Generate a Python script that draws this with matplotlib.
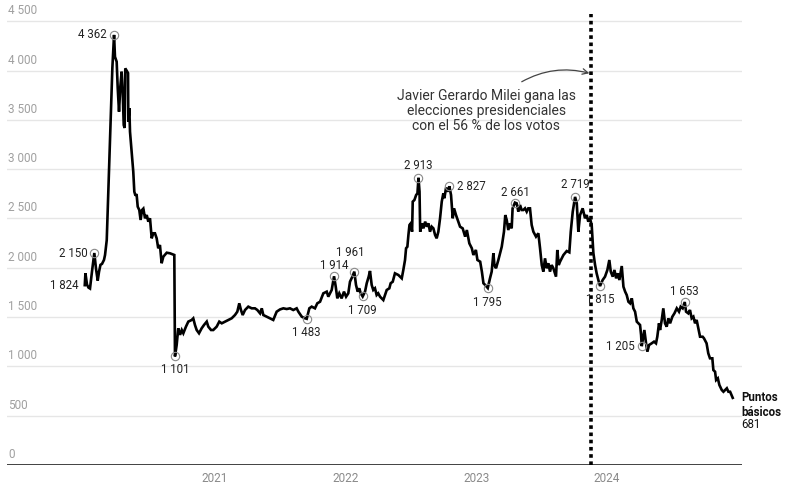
import matplotlib
matplotlib.use("Agg")
import matplotlib.pyplot as plt
from matplotlib.transforms import blended_transform_factory

plt.rcParams["font.family"] = ["Roboto", "DejaVu Sans"]

# riesgo país (puntos básicos), fechas en años decimales
t_2020 = [2020.006, 2020.011, 2020.023, 2020.034, 2020.046, 2020.061, 2020.079, 2020.092, 2020.105, 2020.115,
          2020.126, 2020.138, 2020.153, 2020.161, 2020.174, 2020.217, 2020.230, 2020.237, 2020.250, 2020.258,
          2020.268, 2020.278, 2020.288, 2020.296, 2020.304, 2020.311, 2020.316, 2020.326, 2020.337, 2020.339,
          2020.347, 2020.352, 2020.377, 2020.385, 2020.392, 2020.403, 2020.411, 2020.423, 2020.433, 2020.444,
          2020.454, 2020.467, 2020.480, 2020.492, 2020.505, 2020.518, 2020.530, 2020.543, 2020.556, 2020.568,
          2020.581, 2020.594, 2020.607, 2020.633, 2020.658, 2020.691, 2020.696, 2020.709, 2020.721, 2020.735,
          2020.748, 2020.760, 2020.780, 2020.798, 2020.824, 2020.836, 2020.849, 2020.862, 2020.880, 2020.900,
          2020.918, 2020.939, 2020.951, 2020.972, 2020.989]
v_2020 = [1824, 1945, 1830, 1800, 1790, 1960, 2150, 1990, 1870, 1960,
          2030, 2040, 2080, 2130, 2280, 4026, 4362, 4140, 4090, 3824,
          3583, 3837, 3989, 3786, 3448, 3418, 4023, 4000, 3975, 3482,
          3620, 3380, 2975, 2772, 2740, 2738, 2620, 2586, 2485, 2586,
          2600, 2502, 2535, 2468, 2502, 2299, 2350, 2350, 2299, 2198,
          2231, 2046, 2113, 2153, 2147, 2130, 1101, 1217, 1386, 1320,
          1369, 1336, 1403, 1454, 1471, 1487, 1420, 1369, 1336, 1386,
          1420, 1454, 1403, 1369, 1369]

t_2021 = [2021.015, 2021.035, 2021.054, 2021.079, 2021.104, 2021.130, 2021.155, 2021.173, 2021.188, 2021.201,
          2021.214, 2021.232, 2021.257, 2021.283, 2021.308, 2021.326, 2021.347, 2021.360, 2021.372, 2021.398,
          2021.423, 2021.448, 2021.474, 2021.500, 2021.525, 2021.551, 2021.576, 2021.601, 2021.627, 2021.640,
          2021.666, 2021.691, 2021.704, 2021.724, 2021.742, 2021.767, 2021.785, 2021.806, 2021.831, 2021.857,
          2021.869, 2021.895, 2021.913, 2021.926, 2021.938, 2021.953, 2021.971, 2021.989]
v_2021 = [1403, 1454, 1437, 1454, 1471, 1488, 1521, 1555, 1640, 1572,
          1521, 1572, 1606, 1589, 1589, 1572, 1538, 1589, 1521, 1504,
          1488, 1471, 1555, 1578, 1589, 1582, 1589, 1572, 1589, 1555,
          1504, 1488, 1483, 1589, 1606, 1589, 1640, 1656, 1741, 1758,
          1707, 1775, 1914, 1808, 1690, 1741, 1690, 1758]

t_2022 = [2022.005, 2022.022, 2022.035, 2022.053, 2022.068, 2022.081, 2022.094, 2022.106, 2022.117, 2022.132,
          2022.150, 2022.163, 2022.178, 2022.188, 2022.201, 2022.213, 2022.226, 2022.239, 2022.251, 2022.265,
          2022.290, 2022.303, 2022.316, 2022.336, 2022.346, 2022.362, 2022.379, 2022.405, 2022.418, 2022.431,
          2022.443, 2022.456, 2022.464, 2022.474, 2022.482, 2022.490, 2022.500, 2022.510, 2022.515, 2022.528,
          2022.541, 2022.551, 2022.559, 2022.567, 2022.572, 2022.585, 2022.597, 2022.610, 2022.623, 2022.635,
          2022.647, 2022.660, 2022.673, 2022.686, 2022.698, 2022.711, 2022.724, 2022.737, 2022.749, 2022.757,
          2022.770, 2022.785, 2022.795, 2022.808, 2022.821, 2022.831, 2022.846, 2022.859, 2022.877, 2022.897,
          2022.916, 2022.929, 2022.948, 2022.967, 2022.979, 2022.998]
v_2022 = [1707, 1741, 1859, 1910, 1961, 1826, 1758, 1792, 1741, 1709,
          1758, 1843, 1910, 1968, 1826, 1775, 1792, 1724, 1741, 1707,
          1673, 1724, 1775, 1792, 1843, 1859, 1944, 1927, 1910, 1893,
          1978, 2079, 2198, 2214, 2333, 2434, 2451, 2366, 2671, 2688,
          2738, 2755, 2913, 2772, 2366, 2451, 2400, 2468, 2417, 2451,
          2366, 2417, 2400, 2333, 2299, 2366, 2502, 2671, 2755, 2705,
          2813, 2772, 2827, 2738, 2502, 2603, 2535, 2485, 2417, 2400,
          2316, 2383, 2248, 2198, 2130, 2181]

t_2023 = [2023.010, 2023.031, 2023.044, 2023.056, 2023.069, 2023.089, 2023.106, 2023.119, 2023.132, 2023.140,
          2023.152, 2023.170, 2023.196, 2023.213, 2023.223, 2023.234, 2023.246, 2023.259, 2023.272, 2023.279,
          2023.297, 2023.310, 2023.323, 2023.336, 2023.348, 2023.361, 2023.374, 2023.387, 2023.399, 2023.412,
          2023.425, 2023.438, 2023.458, 2023.476, 2023.489, 2023.502, 2023.514, 2023.527, 2023.540, 2023.553,
          2023.565, 2023.578, 2023.591, 2023.611, 2023.621, 2023.632, 2023.642, 2023.668, 2023.693, 2023.713,
          2023.724, 2023.739, 2023.757, 2023.770, 2023.782, 2023.795, 2023.815, 2023.833, 2023.846, 2023.858,
          2023.871, 2023.884, 2023.897, 2023.910, 2023.922, 2023.935, 2023.948, 2023.968, 2023.986]
v_2023 = [2079, 2062, 1961, 1843, 1826, 1795, 1893, 1961, 2147, 2028,
          1995, 2079, 2214, 2366, 2535, 2485, 2383, 2451, 2400, 2603,
          2661, 2654, 2569, 2637, 2586, 2586, 2603, 2569, 2603, 2603,
          2434, 2366, 2316, 2350, 2198, 2028, 1961, 2096, 1995, 2046,
          1961, 2028, 1995, 1910, 2181, 2028, 2062, 2130, 2170, 2157,
          2366, 2569, 2719, 2654, 2366, 2535, 2603, 2502, 2535, 2468,
          2502, 2434, 2150, 2028, 1944, 1876, 1815, 1876, 1910]

t_2024 = [2024.004, 2024.019, 2024.030, 2024.045, 2024.058, 2024.071, 2024.084, 2024.096, 2024.114, 2024.127,
          2024.140, 2024.152, 2024.165, 2024.178, 2024.191, 2024.203, 2024.216, 2024.229, 2024.241, 2024.254,
          2024.262, 2024.267, 2024.287, 2024.300, 2024.310, 2024.323, 2024.343, 2024.361, 2024.376, 2024.386,
          2024.399, 2024.407, 2024.420, 2024.432, 2024.445, 2024.458, 2024.471, 2024.484, 2024.501, 2024.517,
          2024.535, 2024.552, 2024.565, 2024.580, 2024.596, 2024.606, 2024.623, 2024.636, 2024.649, 2024.662,
          2024.675, 2024.687, 2024.700, 2024.713, 2024.733, 2024.743, 2024.763, 2024.776, 2024.789, 2024.807,
          2024.815, 2024.828, 2024.836, 2024.849, 2024.861, 2024.879, 2024.892, 2024.918, 2024.930, 2024.943,
          2024.963]
v_2024 = [1978, 2079, 1961, 1910, 1978, 1893, 1944, 1876, 2018, 1808,
          1758, 1724, 1656, 1640, 1690, 1589, 1555, 1454, 1437, 1420,
          1318, 1205, 1369, 1234, 1149, 1217, 1234, 1251, 1234, 1301,
          1437, 1369, 1471, 1589, 1437, 1403, 1488, 1437, 1504, 1538,
          1589, 1555, 1606, 1589, 1653, 1555, 1538, 1572, 1488, 1504,
          1437, 1471, 1386, 1301, 1301, 1285, 1234, 1133, 1082, 1082,
          963, 946, 862, 879, 811, 761, 743, 778, 743, 743,
          681]

dates = t_2020 + t_2021 + t_2022 + t_2023 + t_2024
values = v_2020 + v_2021 + v_2022 + v_2023 + v_2024

# puntos destacados
mark_t = [2020.079, 2020.230, 2020.696, 2021.704, 2021.913, 2022.068, 2022.132, 2022.559,
          2022.795, 2023.089, 2023.297, 2023.757, 2023.948, 2024.267, 2024.596]
mark_v = [2150, 4362, 1101, 1483, 1914, 1961, 1709, 2913,
          2827, 1795, 2661, 2719, 1815, 1205, 1653]
# desplazamiento de la etiqueta (px) y alineación
mark_pos = [(-7, 0, "right"), (-7, 0, "right"), (0, -13, "center"), (0, -14, "center"),
            (0, 11, "center"), (-4, 19, "center"), (0, -14, "center"), (0, 12, "center"),
            (8, 0, "left"), (0, -14, "center"), (0, 10, "center"), (0, 12, "center"),
            (0, -13, "center"), (-7, 0, "right"), (0, 11, "center")]

y_ticks = [0, 500, 1000, 1500, 2000, 2500, 3000, 3500, 4000, 4500]
year_ticks = [2021, 2022, 2023, 2024]
election_t = 2023.882
note = "Javier Gerardo Milei gana las\nelecciones presidenciales\ncon el 56 % de los votos"

PX = 0.72  # puntos por pixel a 100 dpi


def fmt(n):
    return f"{n:,}".replace(",", " ")


fig = plt.figure(figsize=(7.9, 4.9), dpi=100)
ax = fig.add_axes([7 / 790, 1 - 465 / 490, 735 / 790, 451 / 490])
ax.set_xlim(2019.411, 2025.034)
ax.set_ylim(0, 4574)
ax.axis("off")

trans = blended_transform_factory(ax.transAxes, ax.transData)
for y in y_ticks:
    if y == 0:
        ax.axhline(0, color="#333333", lw=1.3, zorder=1)
    else:
        ax.axhline(y, color="#e6e6e6", lw=1, zorder=0)
    ax.annotate(fmt(y), (0, y), xycoords=trans, xytext=(1, 4 * PX), textcoords="offset points",
                ha="left", va="bottom", fontsize=8.5, color="#a0a0a0")

for yr in year_ticks:
    ax.annotate(str(yr), (yr, 0), xytext=(0, -13 * PX), textcoords="offset points",
                ha="center", va="center", fontsize=8.5, color="#8a8a8a")

ax.axvline(election_t, ymin=0, ymax=1, color="black", lw=2.6, linestyle=(0, (1, 1)), zorder=2)

ax.plot(dates, values, color="black", lw=1.9, solid_joinstyle="miter", zorder=3)
ax.plot(mark_t, mark_v, "o", ms=6, mfc="none", mec="#8a8a8a", mew=0.8, zorder=4)

for t, v, (dx, dy, ha) in zip(mark_t, mark_v, mark_pos):
    ax.annotate(fmt(v), (t, v), xytext=(dx * PX, dy * PX), textcoords="offset points",
                ha=ha, va="center", fontsize=8.3, color="#222222", zorder=5)

# primer valor de la serie
ax.annotate(fmt(values[0]), (dates[0], values[0]), xytext=(-6 * PX, 0), textcoords="offset points",
            ha="right", va="center", fontsize=8.3, color="#222222")

# último valor
ax.annotate("Puntos\nbásicos", (dates[-1], values[-1]), xytext=(9 * PX, -7 * PX), textcoords="offset points",
            ha="left", va="center", fontsize=8.3, fontweight="bold", color="#111111", linespacing=1.2)
ax.annotate(fmt(values[-1]), (dates[-1], values[-1]), xytext=(9 * PX, -27 * PX), textcoords="offset points",
            ha="left", va="center", fontsize=8.3, color="#111111")

ax.text(2023.076, 3593, note, ha="center", va="center", fontsize=10, color="#333333", linespacing=1.1)
ax.annotate("", xy=(2023.866, 3973), xytext=(2023.349, 3887),
            arrowprops=dict(arrowstyle="->", color="#444444", lw=0.9,
                            connectionstyle="arc3,rad=-0.2", shrinkA=0, shrinkB=0))

fig.savefig("out.png", dpi=100)
